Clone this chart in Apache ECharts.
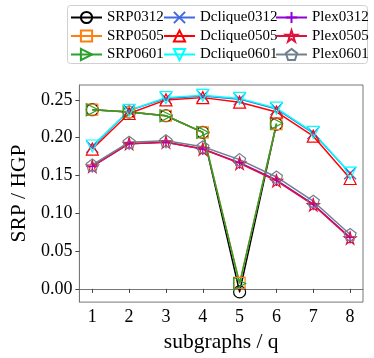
<!DOCTYPE html>
<html><head><meta charset="utf-8">
<script src="https://cdn.jsdelivr.net/npm/echarts@6/dist/echarts.min.js"></script>
<style>html,body{margin:0;padding:0;background:#fff}#c{width:374px;height:358px}</style>
</head><body><div id="c"></div>
<script>
const subgraphs = [1, 2, 3, 4, 5, 6, 7, 8];
const yTicks = [0, 0.05, 0.10, 0.15, 0.20, 0.25];
const SRP0312 = [0.237, 0.234, 0.229, 0.207, -0.004, 0.218];
const SRP0505 = [0.237, 0.234, 0.229, 0.207, 0.008, 0.218];
const SRP0601 = [0.237, 0.234, 0.229, 0.207, 0.007, 0.219];
const Dclique0312 = [0.188, 0.236, 0.252, 0.255, 0.251, 0.238, 0.206, 0.153];
const Dclique0505 = [0.185, 0.232, 0.250, 0.253, 0.247, 0.234, 0.202, 0.146];
const Dclique0601 = [0.189, 0.236, 0.253, 0.256, 0.252, 0.239, 0.207, 0.153];
const Plex0312 = [0.162, 0.192, 0.194, 0.185, 0.167, 0.144, 0.112, 0.068];
const Plex0505 = [0.162, 0.192, 0.194, 0.185, 0.166, 0.143, 0.111, 0.067];
const Plex0601 = [0.164, 0.194, 0.196, 0.188, 0.171, 0.148, 0.116, 0.072];

const SYM = {
  circle: 'circle',
  square: 'rect',
  triRight: 'path://M0,0L10,5L0,10Z',
  triUp: 'path://M5,0L10,10L0,10Z',
  triDown: 'path://M0,0L10,0L5,10Z',
  cross: 'path://M0,0L10,10M10,0L0,10',
  plus: 'path://M5,0L5,10M0,5L10,5',
  star: 'path://M0,-50L11.17,-15.37L47.55,-15.45L18.07,5.87L29.39,40.45L0,19L-29.39,40.45L-18.07,5.87L-47.55,-15.45L-11.17,-15.37Z',
  pentagon: 'path://M0,-50L47.55,-15.45L29.39,40.45L-29.39,40.45L-47.55,-15.45Z'
};

const defs = [
  ['SRP0312', SRP0312, '#000000', SYM.circle, 12],
  ['SRP0505', SRP0505, '#ff7f0e', SYM.square, 11],
  ['SRP0601', SRP0601, '#2ca02c', SYM.triRight, 12],
  ['Dclique0312', Dclique0312, '#4169e1', SYM.cross, 12],
  ['Dclique0505', Dclique0505, '#ff0000', SYM.triUp, 12],
  ['Dclique0601', Dclique0601, '#00ffff', SYM.triDown, 12],
  ['Plex0312', Plex0312, '#9400d3', SYM.plus, 12],
  ['Plex0505', Plex0505, '#dc143c', SYM.star, 12],
  ['Plex0601', Plex0601, '#708090', SYM.pentagon, 12]
];

const series = defs.map(([name, vals, c, sym, sz]) => ({
  name, type: 'line',
  data: vals.map((v, i) => [subgraphs[i], v]),
  symbol: sym, symbolSize: sz, showAllSymbol: true,
  lineStyle: { color: c, width: 1.5 },
  itemStyle: { color: 'rgba(0,0,0,0)', borderColor: c, borderWidth: 1.2 },
  emphasis: { disabled: true },
  silent: true
}));

const font = '"Liberation Serif", "Times New Roman", serif';
const legendBase = {
  orient: 'vertical', top: 10, itemWidth: 31, itemHeight: 14, itemGap: 3.5,
  textStyle: { fontFamily: font, fontSize: 15, color: '#000', lineHeight: 15 },
  selectedMode: false, padding: 0
};

const chart = echarts.init(document.getElementById('c'), null, { renderer: 'canvas' });
chart.setOption({
  animation: false,
  backgroundColor: '#fff',
  textStyle: { fontFamily: font },
  grid: { left: 71, right: 11, top: 85, bottom: 54, show: true, borderColor: '#777', borderWidth: 1, backgroundColor: 'transparent' },
  graphic: [{
    type: 'rect', z: 0, left: 67, top: 5,
    shape: { width: 300, height: 58, r: 3 },
    style: { fill: '#fff', stroke: '#d0d0d0', lineWidth: 1 }
  }],
  legend: [
    Object.assign({}, legendBase, { left: 70, data: ['SRP0312', 'SRP0505', 'SRP0601'] }),
    Object.assign({}, legendBase, { left: 163, data: ['Dclique0312', 'Dclique0505', 'Dclique0601'] }),
    Object.assign({}, legendBase, { left: 275, data: ['Plex0312', 'Plex0505', 'Plex0601'] })
  ],
  xAxis: {
    type: 'value', min: 0.65, max: 8.35,
    name: 'subgraphs / q', nameLocation: 'middle', nameGap: 24,
    nameTextStyle: { fontFamily: font, fontSize: 21.5, color: '#000' },
    axisLine: { show: true, lineStyle: { color: '#777' } },
    axisTick: { show: true, length: 4, lineStyle: { color: '#444' }, customValues: subgraphs },
    axisLabel: { fontFamily: font, fontSize: 18, color: '#000', margin: 6, customValues: subgraphs },
    splitLine: { show: false }
  },
  yAxis: {
    type: 'value', min: -0.0175, max: 0.2697,
    name: 'SRP / HGP', nameLocation: 'middle', nameGap: 48,
    nameTextStyle: { fontFamily: font, fontSize: 21.5, color: '#000' },
    axisLine: { show: true, lineStyle: { color: '#777' } },
    axisTick: { show: true, length: 4, lineStyle: { color: '#444' }, customValues: yTicks },
    axisLabel: { fontFamily: font, fontSize: 18, color: '#000', margin: 7, customValues: yTicks,
      formatter: v => v.toFixed(2) },
    splitLine: { show: false }
  },
  series
});
</script></body></html>
